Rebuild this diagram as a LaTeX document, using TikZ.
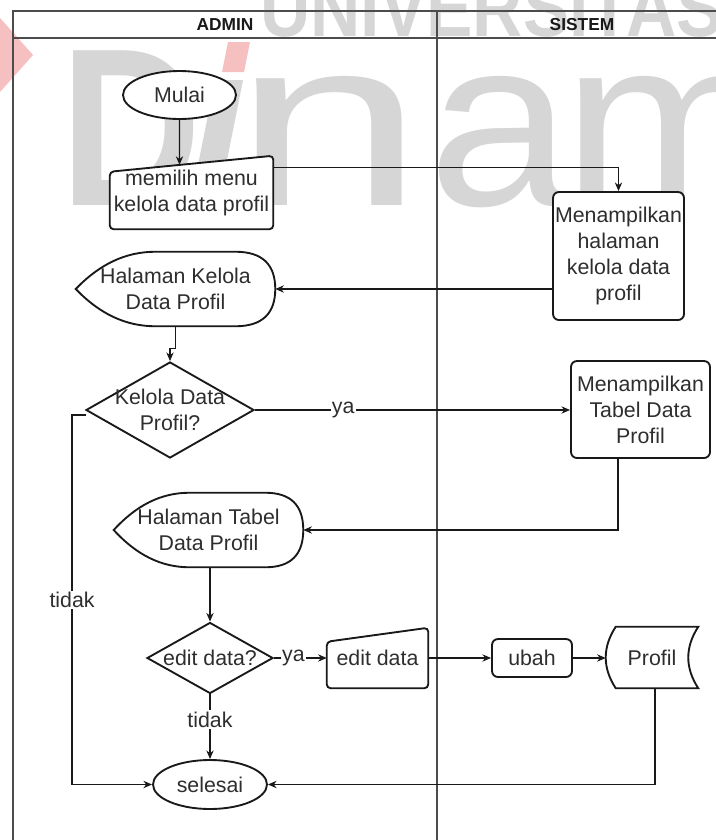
\documentclass[tikz,border=0pt]{standalone}
\usepackage{fontspec}
\setmainfont{Liberation Sans}
\usetikzlibrary{shapes.geometric,arrows.meta,calc}
\pgfdeclarelayer{wm}
\pgfdeclarelayer{bg}
\pgfsetlayers{wm,bg,main}
\definecolor{wmgray}{gray}{0.84}
\definecolor{wmpink}{RGB}{247,192,192}
\definecolor{inkc}{gray}{0.18}
\tikzset{
  x=0.75pt, y=-0.75pt,
  every node/.style={font=\fontsize{16}{19.5}\selectfont, text=inkc, inner sep=0pt, align=center},
  lane/.style={draw=black!70, line width=0.8pt},
  shapeline/.style={draw=black!90, line width=1.4pt, fill=white},
  termnode/.style={ellipse, shapeline},
  procnode/.style={rectangle, rounded corners=4.5pt, shapeline},
  decnode/.style={diamond, shapeline},
  plainbox/.style={rectangle, draw=none},
  flow/.style={draw=black!90, line width=0.9pt, -{Stealth[length=6.5pt,width=5.5pt]}},
  lbl/.style={fill=white, inner sep=1pt},
  hdr/.style={font=\bfseries\fontsize{13}{15}\selectfont, text=black!90},
  wmtext/.style={text=wmgray, inner sep=0pt, anchor=base west},
}
\newcommand\dispout[1]{%
 \draw[shapeline] let \p1=(#1.north west), \p2=(#1.south east), \p3=(#1.west) in
  (\p3) .. controls ({\x1+0.12*(\x2-\x1)},{\y3+0.667*(\y1-\y3)}) and ({\x1+0.25*(\x2-\x1)},\y1) .. ({\x1+0.4*(\x2-\x1)},\y1)
  -- ({\x2-0.2*(\x2-\x1)},\y1)
  .. controls ({\x2-0.0667*(\x2-\x1)},\y1) and (\x2,{\y1+(\y2-\y1)/6}) .. (\x2,\y3)
  .. controls (\x2,{\y2-(\y2-\y1)/6}) and ({\x2-0.0667*(\x2-\x1)},\y2) .. ({\x2-0.2*(\x2-\x1)},\y2)
  -- ({\x1+0.4*(\x2-\x1)},\y2)
  .. controls ({\x1+0.25*(\x2-\x1)},\y2) and ({\x1+0.12*(\x2-\x1)},{\y3+0.667*(\y2-\y3)}) .. cycle;}
\newcommand\maninout[2]{%
 \draw[shapeline, rounded corners=3pt] ($(#1.north west)+(0,#2)$) -- (#1.north east) -- (#1.south east) -- (#1.south west) -- cycle;}
\begin{document}
\begin{tikzpicture}
\useasboundingbox (0,0) rectangle (716,840);
% ---------- watermark ----------
\begin{pgfonlayer}{wm}
 \fill[white] (0,0) rectangle (716,840);
 \fill[wmpink] (0,18) -- (33,55) -- (0,92) -- cycle;
 \node[wmtext, font=\bfseries\fontsize{60}{60}\selectfont] (wmU) at (260,36) {\scalebox{0.87}[1]{UNIVERSITAS}};
 \node[wmtext, font=\bfseries\fontsize{168.75}{170}\selectfont] (wmD) at (60,205) {\scalebox{0.87}[1]{D}};
 \fill[wmgray] (215,80) -- (243,80) -- (218,205) -- (190,205) -- cycle;
 \fill[wmpink] (228,42) -- (250,42) -- (244,72) -- (222,72) -- cycle;
 \node[wmtext, font=\fontsize{180}{180}\selectfont] (wmN) at (233.3,205) {\scalebox{1.43}[1]{n}};
 \node[wmtext, font=\fontsize{180}{180}\selectfont] (wmA) at (428.4,205) {\scalebox{1.08}[1]{a}};
 \node[wmtext, font=\fontsize{180}{180}\selectfont] (wmM) at (562.6,205) {\scalebox{1.1}[1]{m}};
\end{pgfonlayer}
% ---------- lanes ----------
\begin{pgfonlayer}{bg}
 \draw[lane] (13,840) -- (13,11) -- (716,11);
 \draw[lane] (13,38) -- (716,38);
 \draw[lane] (437,11) -- (437,840);
\end{pgfonlayer}
\node[hdr] (hadmin) at (225,25) {ADMIN};
\node[hdr] (hsistem) at (582,25) {SISTEM};
% ---------- nodes ----------
\node[termnode, minimum width=84.75pt, minimum height=36pt] (mulai) at (179.5,95) {Mulai};
\node[plainbox, minimum width=122.25pt, minimum height=54.75pt] (pilih) at (191.5,192.5) {memilih menu\\kelola data profil};
\node[procnode, minimum width=98.25pt, minimum height=96pt] (tampil1) at (618.5,256) {Menampilkan\\halaman\\kelola data\\profil};
\node[plainbox, minimum width=149.25pt, minimum height=55.5pt] (hal1) at (175.5,289) {Halaman Kelola\\Data Profil};
\node[decnode, minimum width=126pt, minimum height=72pt] (kelola) at (170,410) {};
\node (kelolaT) at (kelola.center) {Kelola Data\\Profil?};
\node[procnode, minimum width=104.25pt, minimum height=72.75pt] (tampil2) at (640.5,409.5) {Menampilkan\\Tabel Data\\Profil};
\node[plainbox, minimum width=141.75pt, minimum height=55.5pt] (hal2) at (208.5,530) {Halaman Tabel\\Data Profil};
\node[decnode, minimum width=94.5pt, minimum height=53.25pt] (dedit) at (210,658) {};
\node (deditT) at (dedit.center) {edit data?};
\node[plainbox, minimum width=75.75pt, minimum height=45pt] (editdata) at (377.5,658) {edit data};
\node[procnode, minimum width=60pt, minimum height=28.5pt] (ubah) at (532,658) {ubah};
\node[plainbox, minimum width=69pt, minimum height=45.75pt] (profil) at (652,657.5) {Profil};
\node[termnode, minimum width=85.5pt, minimum height=36.75pt] (selesai) at (210,784.5) {selesai};
% ---------- custom outlines ----------
\begin{pgfonlayer}{bg}
 \maninout{pilih}{16}
 \maninout{editdata}{14}
 \dispout{hal1}
 \dispout{hal2}
 \draw[shapeline] let \p1=(profil.north west), \p2=(profil.south east) in
  ({\x1+7.5pt},\y1) -- (\x2,\y1)
  .. controls ({\x2-10pt},{\y1+(\y2-\y1)/3}) and ({\x2-10pt},{\y1+2*(\y2-\y1)/3}) .. (\x2,\y2)
  -- ({\x1+7.5pt},\y2)
  .. controls ({\x1-2.5pt},{\y1+2*(\y2-\y1)/3}) and ({\x1-2.5pt},{\y1+(\y2-\y1)/3}) .. cycle;
\end{pgfonlayer}
% ---------- connectors ----------
\coordinate (pilTL) at ($(pilih.north west)+(0,16)$);
\coordinate (pilIn) at (intersection cs: first line={(mulai.center)--(mulai.south)}, second line={(pilTL)--(pilih.north east)});
\draw[flow] (mulai.south) -- (pilIn);
\draw[flow] ($(pilih.north east)+(0,12)$) -| (tampil1.north);
\draw[flow] (tampil1.west |- hal1.east) -- (hal1.east);
\draw[flow] (hal1.south) -- ++(0,22) -| (kelola.north);
\draw[flow] (kelola.east) -- node[lbl, pos=0.28] (ya1) {ya} (kelola.east -| tampil2.west);
\draw[flow] ($(kelola.west)+(1,5)$) -- ++(-14,0) |- node[lbl, pos=0.25] (tidak1) {tidak} (selesai.west);
\draw[flow] ($(tampil2.south)+(-22.5,0)$) |- (hal2.east);
\draw[flow] (hal2.south -| dedit.north) -- (dedit.north);
\draw[flow] (dedit.east) -- node[lbl, pos=0.37] (ya2) {ya} (editdata.west);
\draw[flow] (dedit.south) -- node[lbl, pos=0.39] (tidak2) {tidak} (selesai.north);
\draw[flow] (editdata.east) -- (ubah.west);
\draw[flow] (ubah.east) -- (ubah.east -| profil.west);
\draw[flow] ($(profil.south)+(3,0)$) |- (selesai.east);
\end{tikzpicture}
\end{document}
